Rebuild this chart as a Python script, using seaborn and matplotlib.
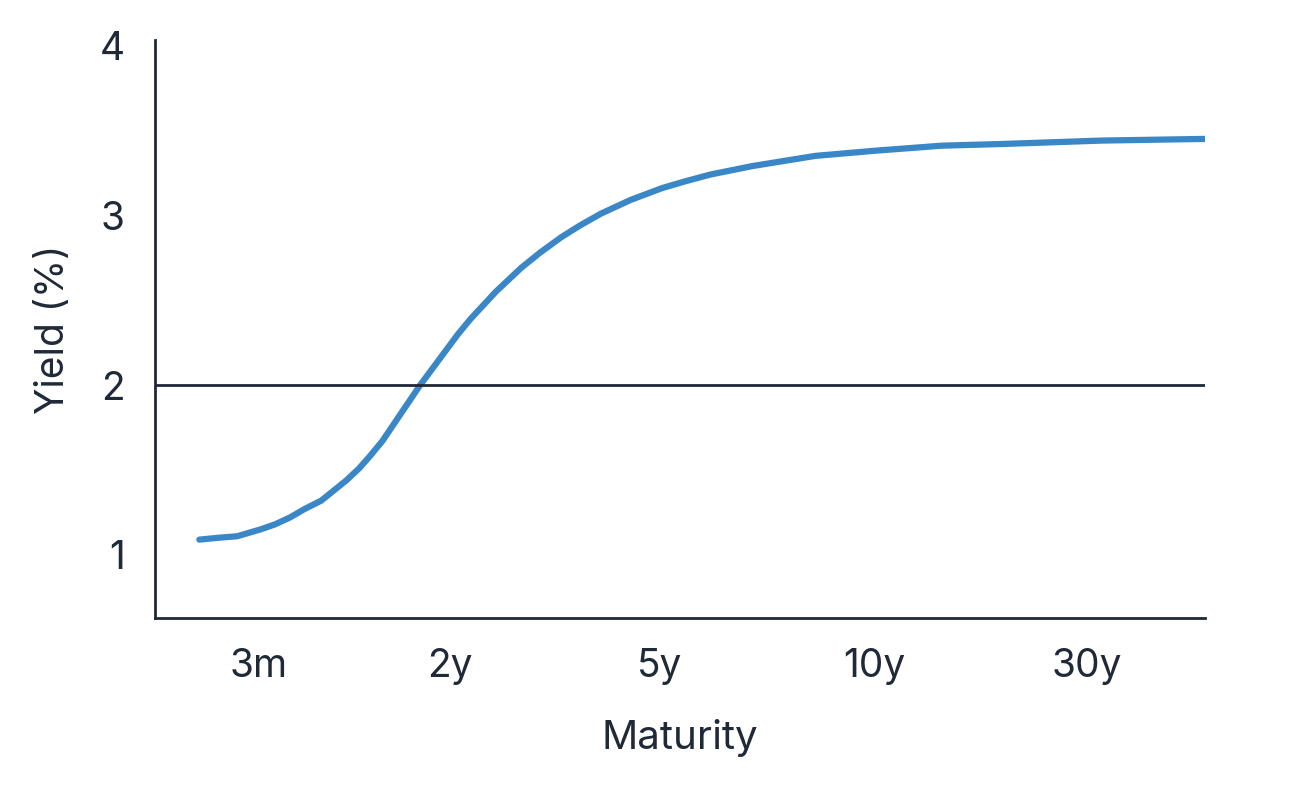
import matplotlib
matplotlib.use("Agg")
import matplotlib.pyplot as plt
import seaborn as sns
import pandas as pd

# === Data ===
maturity_labels = ["3m", "2y", "5y", "10y", "30y"]
tick_pos = [0, 0.91, 1.91, 2.93, 3.94]
curve_x = [-0.28, -0.20, -0.10, 0.01, 0.08, 0.15, 0.22, 0.30, 0.36, 0.42, 0.48, 0.53,
           0.59, 0.65, 0.71, 0.77, 0.83, 0.89, 0.95, 1.01, 1.07, 1.13, 1.19, 1.25,
           1.34, 1.44, 1.53, 1.63, 1.77, 1.92, 2.03, 2.15, 2.35, 2.50, 2.65, 2.93,
           3.25, 3.54, 4.01, 4.51]
curve_y = [1.09, 1.10, 1.11, 1.15, 1.18, 1.22, 1.27, 1.32, 1.38, 1.44, 1.51, 1.58,
           1.67, 1.78, 1.89, 2.00, 2.10, 2.20, 2.30, 2.39, 2.47, 2.55, 2.62, 2.69,
           2.78, 2.87, 2.94, 3.01, 3.09, 3.16, 3.20, 3.24, 3.29, 3.32, 3.35, 3.38,
           3.41, 3.42, 3.44, 3.45]
ref_level = 2

navy = "#1f2937"
blue = "#3a87c8"

sns.set_theme(style="white")
plt.rcParams['font.family'] = ['Inter', 'DejaVu Sans']

fig = plt.figure(figsize=(13.15, 7.92), dpi=100)
ax = fig.add_axes([0.118, 0.22, 0.798, 0.729])

df = pd.DataFrame({"x": curve_x, "y": curve_y})
sns.lineplot(data=df, x="x", y="y", ax=ax, color=blue, linewidth=4.5,
             solid_capstyle="round", solid_joinstyle="round")
ax.axhline(ref_level, color=navy, linewidth=2)

ax.set_xlim(-0.49, 4.5)
ax.set_ylim(0.63, 4.03)
ax.set_xticks(tick_pos)
ax.set_xticklabels(maturity_labels)
ax.set_yticks([1, 2, 3, 4])
ax.tick_params(axis="both", labelsize=28, colors=navy, length=0, pad=22)

ax.set_xlabel("Maturity", fontsize=29, color=navy, labelpad=24)
ax.set_ylabel("Yield (%)", fontsize=28, color=navy, labelpad=20)

for s in ["top", "right"]:
    ax.spines[s].set_visible(False)
for s in ["left", "bottom"]:
    ax.spines[s].set_color(navy)
    ax.spines[s].set_linewidth(2)

fig.savefig("out.png", dpi=100)
